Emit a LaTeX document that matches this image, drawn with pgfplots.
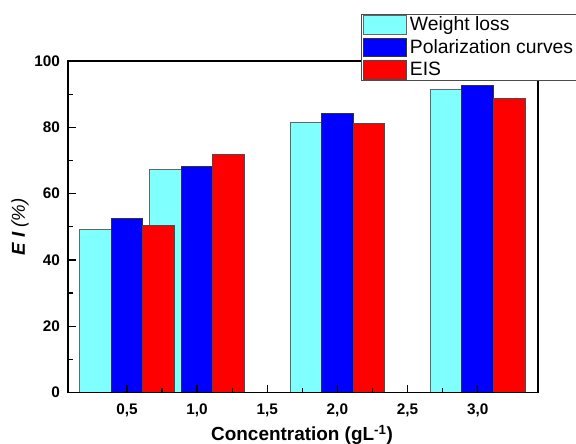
\documentclass[border=0pt]{standalone}
\usepackage{fontspec}
\setmainfont{Liberation Sans}
\usepackage{pgfplots}
\pgfplotsset{compat=1.18}

\definecolor{wlcyan}{RGB}{128,255,255}
\definecolor{pcblue}{RGB}{0,0,255}
\definecolor{eisred}{RGB}{255,0,0}

\begin{document}
\begin{tikzpicture}
  \begin{axis}[
      scale only axis,
      width=352.5pt, height=248.6pt,
      at={(0,0)}, anchor=south west,
      ybar, bar width=0.225,
      xmin=0.08, xmax=3.43,
      ymin=0, ymax=100,
      xtick={0.5,1,1.5,2,2.5,3},
      xticklabels={{0,5},{1,0},{1,5},{2,0},{2,5},{3,0}},
      minor x tick num=1,
      ytick={0,20,40,60,80,100},
      minor y tick num=1,
      tick pos=left,
      tick align=inside,
      major tick length=6pt, minor tick length=3.5pt,
      every tick/.style={black, line width=0.9pt},
      axis line style={black, line width=1pt},
      /pgf/number format/assume math mode=true,
      tick label style={font=\bfseries\fontsize{11.5}{13}\selectfont},
      xticklabel style={yshift=-5pt},
      yticklabel style={xshift=-2.5pt},
      xlabel={\bfseries Concentration (gL\textsuperscript{-1})},
      xlabel style={font=\fontsize{14.2}{16}\selectfont, at={(axis description cs:0.498,-0.128)}, anchor=center},
      ylabel={{\bfseries\itshape E I} {\itshape (\%)}},
      ylabel style={font=\fontsize{14}{16}\selectfont, at={(axis description cs:-0.102,0.5)}, anchor=center},
      legend style={at={(axis description cs:0.623,1.142)}, anchor=north west,
        draw=black!70, fill=white, font=\fontsize{14.5}{16}\selectfont,
        inner xsep=1.5pt, inner ysep=0.8pt, row sep=2.4pt,
        nodes={inner ysep=0.4pt, inner xsep=2.5pt},
        cells={anchor=west}},
      legend image code/.code={\draw[#1] (0pt,-6.9pt) rectangle (32pt,6.9pt);},
      axis on top,
    ]
    \addplot+[bar shift=-0.225, fill=wlcyan, draw=black!60, line width=0.6pt]
      coordinates {(0.5,49.3) (1,67.4) (2,81.5) (3,91.6)};
    \addplot+[bar shift=0, fill=pcblue, draw=black!80, line width=0.6pt]
      coordinates {(0.5,52.4) (1,68.3) (2,84.2) (3,92.7)};
    \addplot+[bar shift=0.225, fill=eisred, draw=black!70, line width=0.6pt]
      coordinates {(0.5,50.5) (1,71.8) (2,81.3) (3,88.7)};
    \legend{Weight loss, Polarization curves, EIS}
  \end{axis}
  \pgfresetboundingbox
  \path (-51pt,-37.9pt) rectangle (381pt,294.4pt);
\end{tikzpicture}
\end{document}
